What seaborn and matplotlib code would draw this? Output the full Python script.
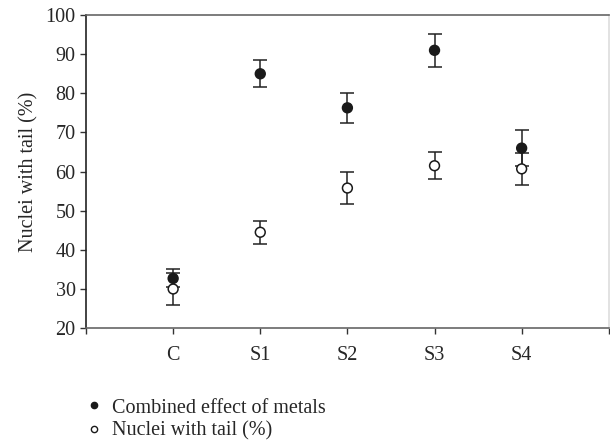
import matplotlib
matplotlib.use("Agg")
import matplotlib.pyplot as plt
import seaborn as sns
import pandas as pd
from matplotlib.lines import Line2D

categories = ['C', 'S1', 'S2', 'S3', 'S4']
combined_mean = [32.7, 85.0, 76.3, 91.0, 66.0]
combined_err = [2.3, 3.4, 3.9, 4.2, 4.6]
tail_mean = [30.0, 44.5, 55.8, 61.5, 60.7]
tail_err = [4.0, 2.9, 4.0, 3.4, 4.1]

sns.set_style("ticks")
plt.rcParams['font.family'] = ['Liberation Serif', 'DejaVu Serif']

df = pd.DataFrame({
    'group': categories * 2,
    'value': combined_mean + tail_mean,
    'err': combined_err + tail_err,
    'series': ['Combined effect of metals'] * 5 + ['Nuclei with tail (%)'] * 5,
})

fig = plt.figure(figsize=(6.10, 4.44), dpi=100)
ax = fig.add_axes([0.141, 0.261, 0.857, 0.705])

xpos = list(range(len(categories)))
# error bars first, markers on top
ax.errorbar(xpos, tail_mean, yerr=tail_err, fmt='none', ecolor='#222222',
            elinewidth=1.1, capsize=5, capthick=1.1, zorder=2)
ax.errorbar(xpos, combined_mean, yerr=combined_err, fmt='none', ecolor='#222222',
            elinewidth=1.1, capsize=5, capthick=1.1, zorder=2)

sns.scatterplot(data=df, x='group', y='value', hue='series', style='series',
                palette={'Combined effect of metals': '#1a1a1a', 'Nuclei with tail (%)': 'white'},
                markers={'Combined effect of metals': 'o', 'Nuclei with tail (%)': 'o'},
                edgecolor='#1a1a1a', linewidth=1.1, s=50, ax=ax, zorder=3, legend=False)

ax.set_xlim(-1, 5)
ax.set_ylim(20, 100)
ax.set_xticks(range(-1, 6))
ax.set_xticklabels([''] + categories + [''])
ax.set_yticks(range(20, 101, 10))
ax.set_xlabel('')
ax.set_ylabel('Nuclei with tail (%)', fontsize=14.5, labelpad=5)
ax.tick_params(axis='both', labelsize=14.5, length=4, width=1, color='#333333', direction='out')
ax.tick_params(axis='x', pad=9)
for side, sp in ax.spines.items():
    sp.set_visible(True)
    sp.set_color('#666666' if side in ('top', 'right', 'bottom') else '#222222')
    sp.set_linewidth(1.2)
ax.spines['right'].set_color('#dddddd')

handles = [
    Line2D([], [], marker='o', linestyle='none', markerfacecolor='#1a1a1a',
           markeredgecolor='#1a1a1a', markersize=4.5),
    Line2D([], [], marker='o', linestyle='none', markerfacecolor='white',
           markeredgecolor='#1a1a1a', markersize=4.5, markeredgewidth=1),
]
fig.legend(handles, ['Combined effect of metals', 'Nuclei with tail (%)'],
           loc='lower left', bbox_to_anchor=(0.125, -0.02), frameon=False,
           fontsize=14.5, handlelength=0.6, handletextpad=0.6, labelspacing=0.2,
           borderaxespad=0.2)

fig.savefig('out.png', dpi=100)
